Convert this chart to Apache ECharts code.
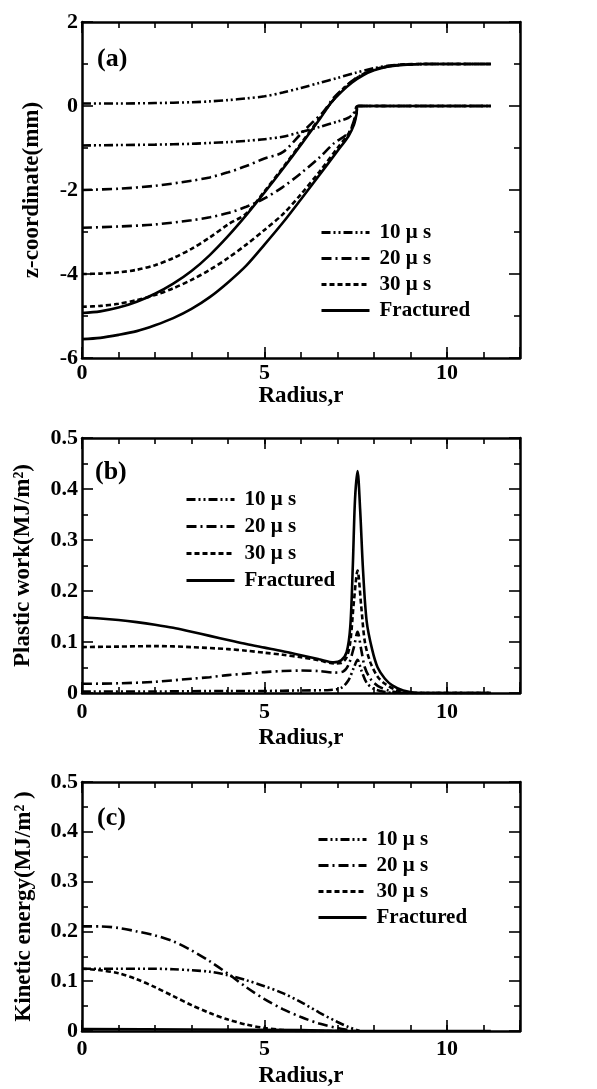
<!DOCTYPE html>
<html>
<head>
<meta charset="utf-8">
<script src="https://cdn.jsdelivr.net/npm/echarts@6/dist/echarts.min.js"></script>
<style>
  html, body { margin: 0; padding: 0; background: #fff; }
  #chart { width: 597px; height: 1089px; }
</style>
</head>
<body>
<div id="chart"></div>
<script>
// legend labels
const seriesNames = ["10 \u03bc s", "20 \u03bc s", "30 \u03bc s", "Fractured"];

// (a) z-coordinate, [radius, z] — upper and lower surface for each time
const zTop10 = [[0,0.06],[1,0.06],[2,0.07],[3,0.09],[3.5,0.11],[4,0.14],[4.5,0.18],[5,0.23],[5.5,0.32],[6,0.43],[6.5,0.55],[7,0.67],[7.5,0.79],[8,0.9],[8.5,0.97],[9,0.99],[9.5,1.0],[11.2,1.0]];
const zBot10 = [[0,-0.94],[1,-0.93],[2,-0.92],[3,-0.9],[3.5,-0.88],[4,-0.86],[4.5,-0.83],[5,-0.79],[5.5,-0.73],[6,-0.62],[6.5,-0.5],[7,-0.37],[7.3,-0.28],[7.45,-0.16],[7.56,0],[11.2,0]];
const zTop20 = [[0,-2.0],[1,-1.97],[2,-1.9],[3,-1.78],[3.5,-1.7],[4,-1.58],[4.5,-1.43],[5,-1.25],[5.5,-1.1],[6,-0.66],[6.3,-0.4],[6.6,-0.15],[6.9,0.2],[7.2,0.45],[7.5,0.66],[7.8,0.8],[8.1,0.89],[8.5,0.96],[9,0.99],[9.5,1.0],[11.2,1.0]];
const zBot20 = [[0,-2.9],[1,-2.87],[2,-2.82],[3,-2.72],[3.5,-2.65],[4,-2.55],[4.5,-2.4],[5,-2.2],[5.5,-1.93],[6,-1.6],[6.5,-1.23],[6.9,-0.89],[7.3,-0.64],[7.45,-0.35],[7.56,0],[11.2,0]];
const zTop30 = [[0,-4.0],[0.5,-3.99],[1,-3.96],[1.5,-3.9],[2,-3.79],[2.5,-3.62],[3,-3.4],[3.5,-3.13],[4,-2.82],[4.5,-2.56],[5,-2.03],[5.5,-1.47],[6,-0.89],[6.5,-0.3],[6.8,0.05],[7.1,0.36],[7.4,0.59],[7.7,0.76],[8,0.87],[8.4,0.95],[8.8,0.99],[9.4,1.0],[11.2,1.0]];
const zBot30 = [[0,-4.78],[0.5,-4.76],[1,-4.71],[1.5,-4.62],[2,-4.5],[2.5,-4.34],[3,-4.14],[3.5,-3.9],[4,-3.62],[4.5,-3.3],[5,-2.95],[5.5,-2.58],[6,-2.1],[6.5,-1.57],[7,-1.0],[7.3,-0.66],[7.45,-0.4],[7.52,-0.18],[7.56,0],[11.2,0]];
const zTopFr = [[0,-4.93],[0.5,-4.89],[1,-4.8],[1.5,-4.66],[2,-4.47],[2.5,-4.23],[3,-3.93],[3.5,-3.55],[4,-3.1],[4.5,-2.6],[5,-2.06],[5.5,-1.5],[6,-0.92],[6.5,-0.33],[6.8,0.05],[7.1,0.33],[7.4,0.56],[7.7,0.73],[8,0.85],[8.4,0.94],[8.8,0.98],[9.4,1.0],[11.2,1.0]];
const zBotFr = [[0,-5.55],[0.5,-5.52],[1,-5.45],[1.5,-5.36],[2,-5.22],[2.5,-5.05],[3,-4.83],[3.5,-4.55],[4,-4.2],[4.5,-3.8],[5,-3.3],[5.5,-2.78],[6,-2.22],[6.5,-1.65],[7,-1.07],[7.3,-0.72],[7.45,-0.45],[7.52,-0.2],[7.56,0],[11.2,0]];

// (b) plastic work, [radius, MJ/m2]
const work10 = [[0,0.003],[2,0.003],[4,0.004],[5,0.004],[6,0.005],[6.8,0.006],[7.1,0.01],[7.3,0.025],[7.45,0.05],[7.55,0.065],[7.65,0.045],[7.8,0.02],[8,0.008],[8.3,0.002],[8.6,0],[11.2,0]];
const work20 = [[0,0.018],[1,0.019],[2,0.022],[3,0.028],[3.5,0.031],[4,0.035],[4.5,0.038],[5,0.041],[5.5,0.043],[6,0.044],[6.5,0.043],[6.9,0.04],[7.15,0.042],[7.3,0.055],[7.45,0.09],[7.55,0.12],[7.65,0.085],[7.75,0.05],[7.9,0.028],[8.1,0.014],[8.4,0.005],[8.8,0],[11.2,0]];
const work30 = [[0,0.09],[1,0.091],[2,0.092],[3,0.09],[4,0.086],[4.5,0.083],[5,0.079],[5.5,0.075],[6,0.07],[6.5,0.064],[6.9,0.058],[7.1,0.059],[7.25,0.07],[7.35,0.1],[7.45,0.18],[7.55,0.24],[7.65,0.17],[7.75,0.1],[7.9,0.06],[8.1,0.032],[8.3,0.018],[8.6,0.006],[9,0],[11.2,0]];
const workFr = [[0,0.148],[0.5,0.146],[1,0.143],[1.5,0.139],[2,0.134],[2.5,0.128],[3,0.12],[3.5,0.112],[4,0.104],[4.5,0.096],[5,0.089],[5.5,0.082],[6,0.074],[6.5,0.066],[6.9,0.06],[7.1,0.064],[7.25,0.08],[7.35,0.13],[7.42,0.25],[7.48,0.38],[7.55,0.435],[7.62,0.36],[7.7,0.24],[7.8,0.14],[7.95,0.085],[8.1,0.05],[8.3,0.028],[8.5,0.015],[8.8,0.005],[9.2,0],[11.2,0]];

// (c) kinetic energy, [radius, MJ/m2]
const kin10 = [[0,0.125],[1,0.125],[2,0.125],[2.5,0.124],[3,0.122],[3.5,0.119],[4,0.112],[4.5,0.102],[5,0.09],[5.5,0.076],[6,0.058],[6.5,0.037],[7,0.018],[7.3,0.008],[7.6,0]];
const kin20 = [[0,0.21],[0.5,0.21],[1,0.207],[1.5,0.2],[2,0.192],[2.5,0.18],[3,0.162],[3.5,0.14],[4,0.115],[4.5,0.088],[5,0.064],[5.5,0.044],[6,0.028],[6.5,0.015],[7,0.006],[7.4,0.001],[7.6,0]];
const kin30 = [[0,0.125],[0.5,0.122],[1,0.116],[1.5,0.104],[2,0.088],[2.5,0.07],[3,0.052],[3.5,0.036],[4,0.023],[4.5,0.013],[5,0.006],[5.5,0.002],[6,0],[7.6,0]];
const kinFr = [[0,0.004],[3,0.003],[6,0.002],[7.6,0],[11.2,0]];

const serif = "'Liberation Serif', 'DejaVu Serif', serif";
const dashOf = {
  "10 \u03bc s": [9, 3, 2, 3, 2, 3],
  "20 \u03bc s": [10, 4, 2, 4],
  "30 \u03bc s": [5, 3],
  "Fractured": "solid",
};

const panels = [
  {
    tag: "(a)", yName: "z-coordinate(mm)", yMin: -6, yMax: 2, yStep: 2,
    grid: { left: 82, top: 22, width: 438, height: 336 },
    labelMargin: 4, xNameGap: 24, yNameGap: 38,
    legendPos: { left: 320, top: 222 }, legendGap: 5, tagPos: { left: 97, top: 46 },
    lines: [
      [seriesNames[0], zTop10], [seriesNames[0], zBot10],
      [seriesNames[1], zTop20], [seriesNames[1], zBot20],
      [seriesNames[2], zTop30], [seriesNames[2], zBot30],
      [seriesNames[3], zTopFr], [seriesNames[3], zBotFr],
    ],
  },
  {
    tag: "(b)", yName: "Plastic work(MJ/m\u00b2)", yMin: 0, yMax: 0.5, yStep: 0.1,
    grid: { left: 82, top: 438, width: 438, height: 255 },
    labelMargin: 8, xNameGap: 34, yNameGap: 47,
    legendPos: { left: 185, top: 489 }, legendGap: 6, tagPos: { left: 95, top: 459 },
    lines: [
      [seriesNames[0], work10], [seriesNames[1], work20],
      [seriesNames[2], work30], [seriesNames[3], workFr],
    ],
  },
  {
    tag: "(c)", yName: "Kinetic energy(MJ/m\u00b2 )", yMin: 0, yMax: 0.5, yStep: 0.1,
    grid: { left: 82, top: 782, width: 438, height: 250 },
    labelMargin: 7, xNameGap: 34, yNameGap: 46,
    legendPos: { left: 317, top: 829 }, legendGap: 5, tagPos: { left: 97, top: 805 },
    lines: [
      [seriesNames[0], kin10], [seriesNames[1], kin20],
      [seriesNames[2], kin30], [seriesNames[3], kinFr],
    ],
  },
];

const black = "#000";
const tickFont = { color: black, fontFamily: serif, fontSize: 22, fontWeight: "bold" };
const nameFont = { color: black, fontFamily: serif, fontSize: 23, fontWeight: "bold" };

const grid = [], xAxis = [], yAxis = [], series = [], legend = [], title = [];

panels.forEach((p, gi) => {
  grid.push(p.grid);

  // bottom / top x axes: unit ticks plus longer ticks every 5
  ["bottom", "top"].forEach((pos) => {
    xAxis.push({
      gridIndex: gi, type: "value", position: pos, min: 0, max: 12, interval: 1,
      axisLine: { show: true, onZero: false, lineStyle: { color: black, width: 2.5 } },
      axisTick: { show: true, inside: true, length: 6, lineStyle: { color: black, width: 1.6 } },
      axisLabel: pos === "bottom"
        ? { ...tickFont, margin: p.labelMargin, formatter: (v) => (v % 5 === 0 && v < 12 ? String(v) : "") }
        : { show: false },
      splitLine: { show: false },
      name: pos === "bottom" ? "Radius,r" : "",
      nameLocation: "middle", nameGap: p.xNameGap,
      nameTextStyle: nameFont,
    });
    xAxis.push({
      gridIndex: gi, type: "value", position: pos, min: 0, max: 12, interval: 5,
      axisLine: { show: false, onZero: false },
      axisTick: { show: true, inside: true, length: 11, lineStyle: { color: black, width: 1.6 } },
      axisLabel: { show: false },
      splitLine: { show: false },
    });
  });

  ["left", "right"].forEach((pos) => {
    yAxis.push({
      gridIndex: gi, type: "value", position: pos, min: p.yMin, max: p.yMax, interval: p.yStep,
      axisLine: { show: true, onZero: false, lineStyle: { color: black, width: 2.5 } },
      axisTick: { show: true, inside: true, length: 11, lineStyle: { color: black, width: 1.6 } },
      minorTick: { show: true, splitNumber: 2, length: 6, lineStyle: { color: black, width: 1.6 } },
      axisLabel: pos === "left" ? { ...tickFont, margin: 4 } : { show: false },
      splitLine: { show: false },
      minorSplitLine: { show: false },
      name: pos === "left" ? p.yName : "",
      nameLocation: "middle", nameGap: p.yNameGap, nameRotate: 90,
      nameTextStyle: nameFont,
    });
  });

  p.lines.forEach(([name, data]) => {
    series.push({
      name, type: "line", data,
      xAxisIndex: gi * 4, yAxisIndex: gi * 2,
      showSymbol: false, symbol: "none", smooth: 0.3,
      lineStyle: { color: black, width: 2.6, type: dashOf[name] },
      itemStyle: { color: black },
      silent: true, animation: false,
    });
  });

  legend.push({
    data: seriesNames, orient: "vertical",
    left: p.legendPos.left, top: p.legendPos.top,
    itemWidth: 48, itemHeight: 14, itemGap: p.legendGap, padding: 0,
    selectedMode: false,
    itemStyle: { color: "rgba(0,0,0,0)", borderWidth: 0 },
    lineStyle: { width: 3 },
    textStyle: { ...tickFont, fontSize: 21, lineHeight: 21, padding: [0, 0, 0, 5] },
  });

  title.push({
    text: p.tag, left: p.tagPos.left, top: p.tagPos.top, padding: 0,
    textStyle: { color: black, fontFamily: serif, fontSize: 26, fontWeight: "bold" },
  });
});

const chart = echarts.init(document.getElementById("chart"), null, { renderer: "canvas" });
chart.setOption({
  animation: false,
  backgroundColor: "#fff",
  title, grid, xAxis, yAxis, legend, series,
});
</script>
</body>
</html>
